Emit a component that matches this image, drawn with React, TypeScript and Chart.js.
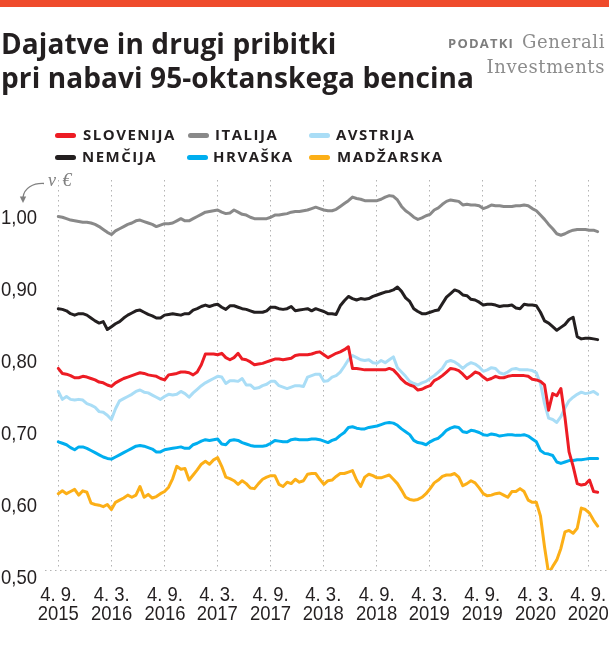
import React, { useEffect, useRef } from "react";
import { Chart, registerables } from "chart.js";

Chart.register(...registerables);

// x position of every sample, in weeks since 4. 9. 2015 (one sample every two weeks)
const WEEKS = [
  0, 2, 4, 6, 8, 10, 12, 14, 16, 18, 20, 22, 24, 26, 28, 30, 32, 34, 36, 38, 40, 42, 44, 46, 48, 50, 52, 54, 56, 58, 60, 62, 64, 66,
  68, 70, 72, 74, 76, 78, 80, 82, 84, 86, 88, 90, 92, 94, 96, 98, 100, 102, 104, 106, 108, 110, 112, 114, 116, 118, 120, 122, 124, 126, 128, 130, 132, 134,
  136, 138, 140, 142, 144, 146, 148, 150, 152, 154, 156, 158, 160, 162, 164, 166, 168, 170, 172, 174, 176, 178, 180, 182, 184, 186, 188, 190, 192, 194, 196, 198, 200, 202,
  204, 206, 208, 210, 212, 214, 216, 218, 220, 222, 224, 226, 228, 230, 232, 234, 236, 238, 240, 242, 244, 246, 248, 250, 252, 254, 256, 258, 260, 262, 264,
];

const SLOVENIJA = [
  0.780, 0.773, 0.772, 0.770, 0.767, 0.767, 0.769, 0.768, 0.766, 0.764, 0.761, 0.760, 0.757, 0.755, 0.760, 0.763, 0.766, 0.768, 0.770, 0.772, 0.774, 0.773, 0.771, 0.770, 0.769, 0.766, 0.764, 0.771, 0.772, 0.773, 0.775, 0.775, 0.774, 0.771,
  0.775, 0.785, 0.800, 0.800, 0.800, 0.799, 0.801, 0.795, 0.792, 0.795, 0.801, 0.793, 0.792, 0.789, 0.785, 0.786, 0.787, 0.789, 0.791, 0.793, 0.793, 0.792, 0.793, 0.794, 0.798, 0.799, 0.799, 0.799, 0.800, 0.802, 0.803, 0.799, 0.795, 0.798,
  0.801, 0.803, 0.806, 0.810, 0.780, 0.780, 0.779, 0.778, 0.778, 0.778, 0.778, 0.778, 0.778, 0.780, 0.778, 0.772, 0.765, 0.760, 0.757, 0.755, 0.750, 0.751, 0.754, 0.756, 0.763, 0.766, 0.770, 0.775, 0.780, 0.779, 0.777, 0.772, 0.766, 0.770,
  0.775, 0.773, 0.768, 0.764, 0.766, 0.769, 0.767, 0.767, 0.769, 0.770, 0.770, 0.770, 0.770, 0.769, 0.765, 0.764, 0.762, 0.757, 0.722, 0.745, 0.742, 0.752, 0.712, 0.664, 0.644, 0.620, 0.618, 0.619, 0.625, 0.609, 0.608,
];

const ITALIJA = [
  0.991, 0.990, 0.988, 0.986, 0.985, 0.984, 0.983, 0.983, 0.982, 0.980, 0.977, 0.973, 0.969, 0.966, 0.971, 0.974, 0.977, 0.980, 0.982, 0.985, 0.986, 0.984, 0.982, 0.980, 0.977, 0.979, 0.981, 0.981, 0.982, 0.985, 0.988, 0.985, 0.985, 0.988,
  0.991, 0.994, 0.997, 0.998, 0.999, 1.000, 0.997, 0.995, 0.996, 1.000, 0.997, 0.994, 0.993, 0.990, 0.988, 0.988, 0.988, 0.988, 0.990, 0.993, 0.993, 0.994, 0.995, 0.997, 0.998, 0.998, 0.999, 1.000, 1.002, 1.004, 1.002, 1.000, 0.999, 0.999,
  1.001, 1.005, 1.009, 1.013, 1.018, 1.016, 1.015, 1.013, 1.013, 1.013, 1.013, 1.015, 1.018, 1.020, 1.019, 1.014, 1.005, 0.999, 0.995, 0.990, 0.987, 0.989, 0.992, 0.994, 1.000, 1.003, 1.008, 1.012, 1.014, 1.013, 1.012, 1.007, 1.008, 1.007,
  1.007, 1.006, 1.002, 1.004, 1.007, 1.006, 1.006, 1.005, 1.005, 1.005, 1.006, 1.006, 1.007, 1.006, 1.002, 0.999, 0.993, 0.987, 0.980, 0.974, 0.967, 0.965, 0.967, 0.970, 0.972, 0.973, 0.973, 0.973, 0.972, 0.972, 0.970,
];

const AVSTRIJA = [
  0.748, 0.737, 0.741, 0.737, 0.736, 0.737, 0.736, 0.731, 0.729, 0.726, 0.720, 0.719, 0.715, 0.709, 0.724, 0.735, 0.738, 0.741, 0.744, 0.748, 0.750, 0.747, 0.746, 0.743, 0.740, 0.737, 0.741, 0.744, 0.743, 0.744, 0.748, 0.745, 0.740, 0.746,
  0.751, 0.756, 0.760, 0.763, 0.766, 0.769, 0.768, 0.759, 0.763, 0.763, 0.762, 0.766, 0.757, 0.757, 0.752, 0.753, 0.756, 0.758, 0.762, 0.762, 0.756, 0.754, 0.752, 0.754, 0.756, 0.756, 0.755, 0.768, 0.770, 0.772, 0.772, 0.762, 0.763, 0.768,
  0.770, 0.775, 0.783, 0.792, 0.798, 0.795, 0.792, 0.791, 0.792, 0.788, 0.787, 0.791, 0.788, 0.792, 0.796, 0.781, 0.775, 0.769, 0.762, 0.759, 0.757, 0.760, 0.762, 0.766, 0.770, 0.775, 0.780, 0.789, 0.791, 0.789, 0.785, 0.780, 0.785, 0.788,
  0.786, 0.782, 0.776, 0.778, 0.781, 0.780, 0.774, 0.772, 0.775, 0.779, 0.780, 0.778, 0.778, 0.778, 0.777, 0.774, 0.759, 0.731, 0.711, 0.709, 0.705, 0.713, 0.725, 0.735, 0.740, 0.744, 0.747, 0.745, 0.746, 0.748, 0.744,
];

const NEMCIJA = [
  0.863, 0.862, 0.860, 0.856, 0.854, 0.856, 0.856, 0.854, 0.850, 0.846, 0.843, 0.845, 0.834, 0.838, 0.842, 0.845, 0.850, 0.854, 0.857, 0.860, 0.861, 0.858, 0.855, 0.853, 0.850, 0.850, 0.854, 0.855, 0.856, 0.855, 0.854, 0.856, 0.856, 0.861,
  0.863, 0.866, 0.868, 0.866, 0.868, 0.869, 0.865, 0.862, 0.867, 0.867, 0.865, 0.863, 0.862, 0.860, 0.858, 0.858, 0.858, 0.860, 0.865, 0.865, 0.863, 0.862, 0.863, 0.866, 0.860, 0.861, 0.862, 0.863, 0.860, 0.863, 0.861, 0.859, 0.856, 0.856,
  0.855, 0.867, 0.874, 0.880, 0.877, 0.875, 0.877, 0.876, 0.877, 0.880, 0.882, 0.884, 0.886, 0.887, 0.889, 0.893, 0.887, 0.878, 0.873, 0.863, 0.859, 0.856, 0.856, 0.858, 0.860, 0.861, 0.870, 0.879, 0.884, 0.889, 0.887, 0.882, 0.881, 0.876,
  0.875, 0.872, 0.868, 0.869, 0.869, 0.868, 0.866, 0.867, 0.867, 0.868, 0.864, 0.863, 0.869, 0.868, 0.868, 0.867, 0.858, 0.846, 0.843, 0.838, 0.833, 0.837, 0.841, 0.848, 0.851, 0.824, 0.821, 0.822, 0.822, 0.821, 0.820,
];

const HRVASKA = [
  0.678, 0.676, 0.674, 0.670, 0.667, 0.671, 0.671, 0.669, 0.666, 0.663, 0.660, 0.657, 0.655, 0.654, 0.657, 0.660, 0.663, 0.666, 0.669, 0.672, 0.673, 0.672, 0.670, 0.668, 0.664, 0.664, 0.667, 0.668, 0.669, 0.670, 0.671, 0.669, 0.669, 0.674,
  0.676, 0.679, 0.681, 0.680, 0.681, 0.682, 0.675, 0.674, 0.680, 0.681, 0.680, 0.677, 0.675, 0.673, 0.672, 0.672, 0.672, 0.673, 0.676, 0.680, 0.679, 0.678, 0.678, 0.681, 0.682, 0.681, 0.681, 0.681, 0.682, 0.682, 0.681, 0.679, 0.677, 0.680,
  0.682, 0.687, 0.691, 0.698, 0.699, 0.697, 0.696, 0.696, 0.698, 0.699, 0.700, 0.702, 0.704, 0.705, 0.704, 0.701, 0.696, 0.692, 0.688, 0.680, 0.677, 0.676, 0.674, 0.678, 0.681, 0.683, 0.688, 0.694, 0.697, 0.699, 0.698, 0.692, 0.691, 0.694,
  0.693, 0.691, 0.688, 0.687, 0.689, 0.688, 0.686, 0.687, 0.688, 0.688, 0.687, 0.687, 0.688, 0.686, 0.682, 0.678, 0.666, 0.662, 0.661, 0.659, 0.650, 0.648, 0.650, 0.652, 0.652, 0.653, 0.653, 0.654, 0.655, 0.655, 0.655,
];

const MADZARSKA = [
  0.606, 0.610, 0.606, 0.609, 0.612, 0.604, 0.610, 0.608, 0.593, 0.591, 0.590, 0.588, 0.591, 0.584, 0.594, 0.597, 0.600, 0.604, 0.601, 0.604, 0.616, 0.601, 0.605, 0.600, 0.602, 0.606, 0.609, 0.615, 0.627, 0.644, 0.640, 0.641, 0.625, 0.632,
  0.639, 0.647, 0.651, 0.647, 0.653, 0.656, 0.644, 0.629, 0.627, 0.624, 0.619, 0.624, 0.620, 0.614, 0.613, 0.620, 0.626, 0.629, 0.631, 0.631, 0.619, 0.616, 0.622, 0.620, 0.626, 0.622, 0.624, 0.633, 0.634, 0.634, 0.626, 0.619, 0.624, 0.625,
  0.630, 0.634, 0.634, 0.636, 0.638, 0.625, 0.616, 0.629, 0.633, 0.631, 0.628, 0.628, 0.630, 0.632, 0.626, 0.620, 0.611, 0.601, 0.598, 0.597, 0.598, 0.601, 0.606, 0.613, 0.621, 0.625, 0.630, 0.632, 0.632, 0.634, 0.629, 0.617, 0.620, 0.624,
  0.621, 0.614, 0.606, 0.603, 0.604, 0.606, 0.607, 0.604, 0.601, 0.609, 0.609, 0.613, 0.609, 0.597, 0.594, 0.594, 0.575, 0.532, 0.495, 0.505, 0.514, 0.530, 0.553, 0.555, 0.551, 0.558, 0.586, 0.584, 0.579, 0.569, 0.561,
];

// x-axis ticks (same week units as WEEKS) and their labels
const X_TICKS = [0, 26.1, 52.2, 77.8, 103.9, 129.7, 155.8, 181.6, 207.5, 233.6, 259.4];
const X_LABELS = [
  ["4. 9.", "2015"],
  ["4. 3.", "2016"],
  ["4. 9.", "2016"],
  ["4. 3.", "2017"],
  ["4. 9.", "2017"],
  ["4. 3.", "2018"],
  ["4. 9.", "2018"],
  ["4. 3.", "2019"],
  ["4. 9.", "2019"],
  ["4. 3.", "2020"],
  ["4. 9.", "2020"],
];
const Y_TICKS = [0.5, 0.6, 0.7, 0.8, 0.9, 1.0];
const Y_LABELS = ["0,50", "0,60", "0,70", "0,80", "0,90", "1,00"];

const SERIES_NAMES = ["SLOVENIJA", "NEMČIJA", "HRVAŠKA", "MADŽARSKA", "ITALIJA", "AVSTRIJA"];
const SERIES_VALUES = [SLOVENIJA, NEMCIJA, HRVASKA, MADZARSKA, ITALIJA, AVSTRIJA];
const SERIES_COLORS = ["#ed1c24", "#231f20", "#00aeef", "#fcaf17", "#898989", "#a9ddf6"];

const TEXT = "#231f20";
const TICK_FONT = '21px "Liberation Sans", Arial, sans-serif';
const TICK_SQUEEZE = 0.88;

const LEGEND_ITEMS = [
  { name: "SLOVENIJA", color: "#ed1c24", sx: 55, tx: 83, row: 0 },
  { name: "ITALIJA", color: "#898989", sx: 188, tx: 215, row: 0 },
  { name: "AVSTRIJA", color: "#a9ddf6", sx: 309, tx: 336, row: 0 },
  { name: "NEMČIJA", color: "#231f20", sx: 55, tx: 82, row: 1 },
  { name: "HRVAŠKA", color: "#00aeef", sx: 187, tx: 213, row: 1 },
  { name: "MADŽARSKA", color: "#fcaf17", sx: 309, tx: 337, row: 1 },
];

// draws the tick labels in a narrow (horizontally squeezed) face, positioned by the chart's scales
const narrowTickLabels = {
  id: "narrowTickLabels",
  afterDraw(chart: any) {
    const ctx = chart.ctx as CanvasRenderingContext2D;
    const xs = chart.scales.x;
    const ys = chart.scales.y;
    ctx.save();
    ctx.fillStyle = TEXT;
    ctx.font = TICK_FONT;
    ctx.textBaseline = "alphabetic";
    Y_TICKS.forEach((v, i) => {
      const py = ys.getPixelForValue(v);
      ctx.save();
      ctx.translate(ys.right - 8, py + 14.3);
      ctx.scale(TICK_SQUEEZE, 1);
      ctx.textAlign = "right";
      ctx.fillText(Y_LABELS[i], 0, 0);
      ctx.restore();
    });
    X_TICKS.forEach((v, i) => {
      const px = xs.getPixelForValue(v);
      const [l1, l2] = X_LABELS[i];
      ctx.save();
      ctx.translate(px, xs.top + 31);
      ctx.scale(TICK_SQUEEZE, 1);
      ctx.textAlign = "center";
      ctx.fillText(l1, 0, 0);
      ctx.fillText(l2, 0, 19);
      ctx.restore();
    });
    ctx.restore();
  },
};

export default function App() {
  const canvasRef = useRef<HTMLCanvasElement | null>(null);

  useEffect(() => {
    const canvas = canvasRef.current;
    if (!canvas) return;
    const gridColor = "#b3b3b3";
    const chart = new Chart(canvas, {
      type: "line",
      data: {
        datasets: SERIES_NAMES.map((name, k) => ({
          label: name,
          data: WEEKS.map((w, i) => ({ x: w, y: SERIES_VALUES[k][i] })),
          borderColor: SERIES_COLORS[k],
          backgroundColor: SERIES_COLORS[k],
          borderWidth: 3,
          pointRadius: 0,
          pointHoverRadius: 0,
          tension: 0,
          fill: false,
          borderJoinStyle: "round" as const,
          borderCapStyle: "round" as const,
        })),
      },
      options: {
        responsive: false,
        maintainAspectRatio: false,
        animation: false,
        events: [],
        layout: { padding: { top: 180, left: 0, right: 0, bottom: 0 } },
        plugins: { legend: { display: false }, tooltip: { enabled: false } },
        scales: {
          x: {
            type: "linear",
            min: -6.51,
            max: 269.55,
            afterBuildTicks: (s: any) => {
              s.ticks = X_TICKS.map((v) => ({ value: v }));
            },
            afterFit: (s: any) => {
              s.height = 91;
              s.paddingLeft = 0;
              s.paddingRight = 0;
            },
            grid: { color: gridColor, lineWidth: 1, drawTicks: false },
            border: { display: false, dash: [1.5, 3.5] },
            ticks: { display: false, autoSkip: false },
          },
          y: {
            type: "linear",
            min: 0.5,
            max: 1.0417,
            afterBuildTicks: (s: any) => {
              s.ticks = Y_TICKS.map((v) => ({ value: v }));
            },
            afterFit: (s: any) => {
              s.width = 45;
              s.paddingTop = 0;
              s.paddingBottom = 0;
            },
            grid: {
              color: (ctx: any) => (ctx.tick && Math.abs(ctx.tick.value - 0.5) < 1e-6 ? gridColor : "rgba(0,0,0,0)"),
              lineWidth: 1,
              drawTicks: false,
            },
            border: { display: false, dash: [1.5, 3.5] },
            ticks: { display: false },
          },
        },
      },
      plugins: [narrowTickLabels],
    } as any);
    return () => chart.destroy();
  }, []);

  return (
    <div
      style={{
        position: "absolute",
        left: 0,
        top: 0,
        width: 609,
        height: 661,
        background: "#ffffff",
        overflow: "hidden",
      }}
    >
      <div style={{ position: "absolute", left: 0, top: 0, width: 609, height: 7, background: "#ef4b2c" }} />
      <canvas ref={canvasRef} width={609} height={661} style={{ position: "absolute", left: 0, top: 0 }} />
      <div
        style={{
          position: "absolute",
          left: 1,
          top: 26,
          fontFamily: '"Open Sans", sans-serif',
          fontWeight: 700,
          fontSize: 28,
          lineHeight: "34px",
          color: TEXT,
          whiteSpace: "nowrap",
          letterSpacing: "0.1px",
        }}
      >
        <div>Dajatve in drugi pribitki</div>
        <div>pri nabavi 95-oktanskega bencina</div>
      </div>
      <div
        style={{
          position: "absolute",
          right: 4,
          top: 30,
          textAlign: "right",
          fontFamily: '"DejaVu Serif", serif',
          fontSize: 18,
          lineHeight: "23px",
          letterSpacing: "0.6px",
          color: "#8c8c8c",
          whiteSpace: "nowrap",
        }}
      >
        <div>
          <span
            style={{
              fontFamily: '"Open Sans", sans-serif',
              fontWeight: 700,
              fontSize: 13,
              letterSpacing: "1.2px",
              color: "#7d7d7d",
              marginRight: 8,
            }}
          >
            PODATKI
          </span>
          Generali
        </div>
        <div>Investments</div>
      </div>
      {LEGEND_ITEMS.map((it) => {
        const cy = it.row === 0 ? 135 : 157;
        return (
          <React.Fragment key={it.name}>
            <div
              style={{
                position: "absolute",
                left: it.sx,
                top: cy - 2.5,
                width: 21,
                height: 5,
                borderRadius: 3,
                background: it.color,
              }}
            />
            <div
              style={{
                position: "absolute",
                left: it.tx,
                top: cy - 8,
                fontFamily: '"Open Sans", sans-serif',
                fontWeight: 700,
                fontSize: 15,
                lineHeight: "15px",
                letterSpacing: "1.5px",
                color: TEXT,
                whiteSpace: "nowrap",
              }}
            >
              {it.name}
            </div>
          </React.Fragment>
        );
      })}
      <div
        style={{
          position: "absolute",
          left: 48,
          top: 170,
          fontFamily: '"Liberation Serif", serif',
          fontStyle: "italic",
          fontSize: 18,
          lineHeight: "20px",
          letterSpacing: "1px",
          color: "#808080",
          whiteSpace: "nowrap",
        }}
      >
        v €
      </div>
      <svg
        width={60}
        height={40}
        style={{ position: "absolute", left: 0, top: 175, overflow: "visible" }}
      >
        <path d="M44,8.5 C33,8 24,13 23,22.5" fill="none" stroke="#808080" strokeWidth={1.3} />
        <path d="M19.8,21.5 L26.2,21.5 L23,28 Z" fill="#808080" />
      </svg>
    </div>
  );
}
